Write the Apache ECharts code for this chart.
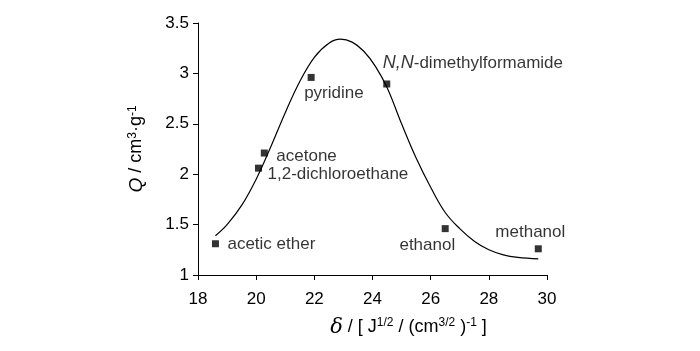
<!DOCTYPE html>
<html>
<head>
<meta charset="utf-8">
<script src="https://cdn.jsdelivr.net/npm/echarts@6/dist/echarts.min.js"></script>
<style>
  html, body { margin: 0; padding: 0; background: #fff; }
  #chart { width: 700px; height: 351px; }
</style>
</head>
<body>
<div id="chart"></div>
<script>
var myChart = echarts.init(document.getElementById('chart'));

// measured solvents: solubility parameter vs Q
var solventNames = ['acetic ether', '1,2-dichloroethane', 'acetone', 'pyridine',
    'N,N-dimethylformamide', 'ethanol', 'methanol'];
var solventDelta = [18.6, 20.08, 20.28, 21.89, 24.49, 26.5, 29.7];
var solventQ = [1.31, 2.06, 2.21, 2.96, 2.895, 1.46, 1.26];

// fitted curve
var curveDelta = [18.6, 19.0, 19.5, 20.0, 20.5, 21.0, 21.5, 22.0, 22.5, 22.9, 23.3, 23.7,
    24.1, 24.5, 25.0, 25.5, 26.0, 26.5, 27.0, 27.5, 28.0, 28.5, 29.0, 29.7];
var curveQ = [1.39, 1.5, 1.69, 1.95, 2.27, 2.61, 2.92, 3.16, 3.3, 3.34, 3.31, 3.22,
    3.07, 2.86, 2.5, 2.16, 1.87, 1.62, 1.46, 1.335, 1.25, 1.2, 1.175, 1.16];

var font = '"Liberation Sans", Arial, sans-serif';

// where each name sits relative to its marker centre
var labelPlace = [
    {offset: [12, 1], align: 'left'},
    {offset: [9, 6], align: 'left'},
    {offset: [12, 3], align: 'left'},
    {offset: [-7, 16], align: 'left'},
    {offset: [-4, -21], align: 'left'},
    {offset: [10, 17], align: 'right'},
    {offset: [27, -16], align: 'right'}
];

var pointData = solventNames.map(function (name, i) {
    var p = labelPlace[i];
    var text = name === 'N,N-dimethylformamide' ? '{i|N,N}-dimethylformamide' : name;
    return {
        value: [solventDelta[i], solventQ[i]],
        name: name,
        label: {
            show: true,
            position: 'inside',
            formatter: text,
            offset: p.offset,
            align: p.align,
            verticalAlign: 'middle'
        }
    };
});

var curveData = curveDelta.map(function (d, i) {
    return [d, curveQ[i]];
});

var supStyle = {fontSize: 12, fontFamily: font, color: '#000', verticalAlign: 'top', padding: [0, 0, 6, 0]};

myChart.setOption({
    backgroundColor: '#fff',
    animation: false,
    grid: {left: 198, right: 153, top: 23, bottom: 76},
    xAxis: {
        type: 'value',
        min: 18,
        max: 30,
        interval: 2,
        splitLine: {show: false},
        axisLine: {lineStyle: {color: '#000', width: 1}},
        axisTick: {inside: false, length: 5, lineStyle: {color: '#000'}},
        axisLabel: {color: '#000', fontSize: 17, fontFamily: font, margin: 16},
        name: '{d|δ} / [ J{s|1/2} / (cm{s|3/2} ){s|-1} ]',
        nameLocation: 'middle',
        nameGap: 42,
        nameTextStyle: {
            color: '#000', fontSize: 18, fontFamily: font,
            padding: [0, 0, 0, 72],
            rich: {
                d: {fontSize: 21, fontStyle: 'italic', fontFamily: 'DejaVu Serif, serif', color: '#000'},
                s: supStyle
            }
        }
    },
    yAxis: {
        type: 'value',
        min: 1,
        max: 3.5,
        interval: 0.5,
        splitLine: {show: false},
        axisLine: {show: true, lineStyle: {color: '#000', width: 1}},
        axisTick: {show: true, inside: false, length: 5, lineStyle: {color: '#000'}},
        axisLabel: {color: '#000', fontSize: 17, fontFamily: font, margin: 9},
        name: '{q|Q} / cm{s|3}·g{s|-1}',
        nameLocation: 'middle',
        nameRotate: 90,
        nameGap: 52,
        nameTextStyle: {
            color: '#000', fontSize: 18, fontFamily: font,
            rich: {
                q: {fontSize: 19, fontStyle: 'italic', fontFamily: font, color: '#000'},
                s: supStyle
            }
        }
    },
    series: [
        {
            type: 'line',
            data: curveData,
            smooth: 0.4,
            showSymbol: false,
            symbol: 'none',
            lineStyle: {color: '#000', width: 1.2},
            silent: true
        },
        {
            type: 'scatter',
            data: pointData,
            symbol: 'rect',
            symbolSize: 7,
            itemStyle: {color: '#000'},
            label: {
                color: '#000',
                fontSize: 17,
                fontFamily: font,
                rich: {
                    i: {fontSize: 18, fontStyle: 'italic', fontFamily: font, color: '#000'}
                }
            },
            z: 3
        }
    ]
});
</script>
</body>
</html>
